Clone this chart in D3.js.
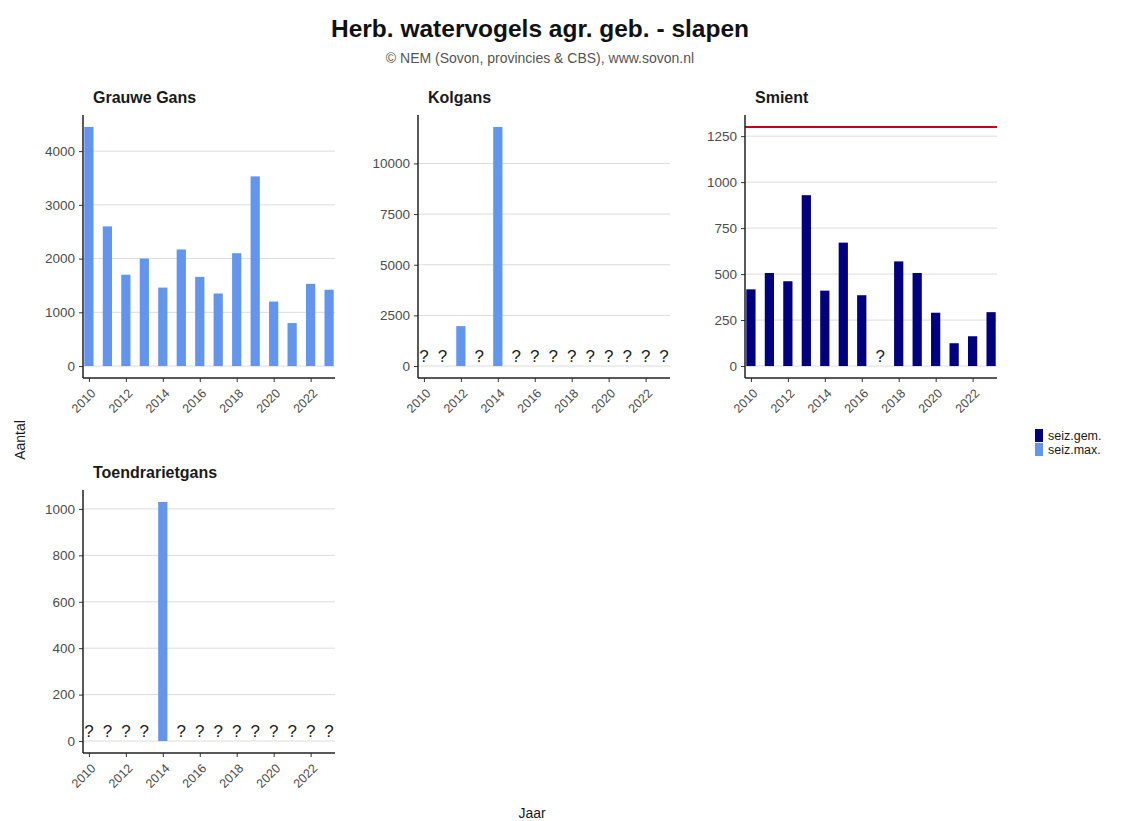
<!DOCTYPE html>
<html>
<head>
<meta charset="utf-8">
<script src="https://cdn.jsdelivr.net/npm/d3@7"></script>
<style>
  body { margin: 0; background: #fff; }
  svg { font-family: "Liberation Sans", Arial, sans-serif; }
</style>
</head>
<body>
<div id="chart"></div>
<script>
// jaren en labels
const years = [2010, 2011, 2012, 2013, 2014, 2015, 2016, 2017, 2018, 2019, 2020, 2021, 2022, 2023]
const xTickYears = [2010, 2012, 2014, 2016, 2018, 2020, 2022]

// soorten (facetten)
const species = ['Grauwe Gans', 'Kolgans', 'Smient', 'Toendrarietgans']

// waarden per soort (null = onbekend, "?")
const grauweGans = [4450, 2600, 1700, 2000, 1460, 2170, 1660, 1350, 2100, 3530, 1200, 800, 1530, 1420]
const kolgans = [null, null, 1970, null, 11800, null, null, null, null, null, null, null, null, null]
const smient = [417, 506, 461, 929, 410, 671, 385, null, 569, 506, 290, 124, 162, 293]
const toendrarietgans = [null, null, null, null, 1030, null, null, null, null, null, null, null, null, null]

// welke reeks per soort
const speciesSeries = ['seiz.max.', 'seiz.max.', 'seiz.gem.', 'seiz.max.']

// y-as ticks per soort
const yTicksGrauweGans = [0, 1000, 2000, 3000, 4000]
const yTicksKolgans = [0, 2500, 5000, 7500, 10000]
const yTicksSmient = [0, 250, 500, 750, 1000, 1250]
const yTicksToendra = [0, 200, 400, 600, 800, 1000]

// drempelwaarde Smient (rode lijn)
const smientThreshold = [1300]

// legenda
const legendLabels = ['seiz.gem.', 'seiz.max.']
const legendColors = ['#00007f', '#6495ed']

const seriesColor = { 'seiz.gem.': '#00007f', 'seiz.max.': '#6495ed' }
const values = [grauweGans, kolgans, smient, toendrarietgans]
const yTicks = [yTicksGrauweGans, yTicksKolgans, yTicksSmient, yTicksToendra]
const thresholds = [[], [], smientThreshold, []]

const width = 1128
const height = 821

const svg = d3.select('#chart').append('svg')
  .attr('width', width)
  .attr('height', height)

// titel
svg.append('text')
  .attr('x', 540).attr('y', 37)
  .attr('text-anchor', 'middle')
  .style('font-size', '24.5px').style('font-weight', 'bold').style('fill', '#111')
  .text('Herb. watervogels agr. geb. - slapen')

svg.append('text')
  .attr('x', 540).attr('y', 63)
  .attr('text-anchor', 'middle')
  .style('font-size', '14px').style('fill', '#555')
  .text('\u00a9 NEM (Sovon, provincies & CBS), www.sovon.nl')

// panelen
const panelW = 252
const panelH = 263
const panelPos = [[83, 115], [418, 115], [745, 115], [83, 490]]

species.forEach((name, i) => {
  const [px, py] = panelPos[i]
  const data = years.map((y, j) => ({ year: y, value: values[i][j] }))
  const maxVal = d3.max([...values[i].filter(v => v != null), ...thresholds[i]])

  const x = d3.scaleLinear().domain([2009.68, 2023.32]).range([0, panelW])
  const y = d3.scaleLinear().domain([-0.05 * maxVal, 1.05 * maxVal]).range([panelH, 0])
  const barW = x(2010.5) - x(2010)

  const g = svg.append('g').attr('transform', `translate(${px},${py})`)

  // strip titel
  g.append('text')
    .attr('x', 10).attr('y', -12)
    .style('font-size', '16px').style('font-weight', 'bold').style('fill', '#1a1a1a')
    .text(name)

  // rasterlijnen
  g.append('g').selectAll('line').data(yTicks[i]).enter()
    .append('line')
    .attr('x1', 0).attr('x2', panelW)
    .attr('y1', d => y(d)).attr('y2', d => y(d))
    .style('stroke', '#dcdcdc').style('stroke-width', 1)

  // staven
  g.append('g').selectAll('rect').data(data.filter(d => d.value != null)).enter()
    .append('rect')
    .attr('x', d => x(d.year) - barW / 2)
    .attr('width', barW)
    .attr('y', d => y(d.value))
    .attr('height', d => y(0) - y(d.value))
    .style('fill', seriesColor[speciesSeries[i]])

  // onbekende waarden
  g.append('g').selectAll('text').data(data.filter(d => d.value == null)).enter()
    .append('text')
    .attr('x', d => x(d.year))
    .attr('y', y(0) - 4)
    .attr('text-anchor', 'middle')
    .style('font-size', '17px').style('fill', '#222')
    .text('?')

  // drempel
  g.append('g').selectAll('line').data(thresholds[i]).enter()
    .append('line')
    .attr('x1', 0).attr('x2', panelW)
    .attr('y1', d => y(d)).attr('y2', d => y(d))
    .style('stroke', '#c4001c').style('stroke-width', 2)

  // y-as
  const yAxis = g.append('g')
    .call(d3.axisLeft(y).tickValues(yTicks[i]).tickSize(4).tickPadding(4).tickFormat(d3.format('d')))
  yAxis.select('.domain').remove()
  yAxis.selectAll('text').style('font-size', '13.5px').style('fill', '#4d4d4d').style('font-family', null)
  yAxis.selectAll('line').style('stroke', '#333')

  // x-as
  const xAxis = g.append('g').attr('transform', `translate(0,${panelH})`)
    .call(d3.axisBottom(x).tickValues(xTickYears).tickSize(4).tickFormat(d3.format('d')))
  xAxis.select('.domain').remove()
  xAxis.selectAll('line').style('stroke', '#333')
  xAxis.selectAll('text')
    .attr('text-anchor', 'end')
    .attr('dy', null)
    .attr('y', 0)
    .attr('transform', 'translate(7,16) rotate(-45)')
    .style('font-size', '12.5px').style('fill', '#4d4d4d').style('font-family', null)

  // aslijnen
  g.append('line')
    .attr('x1', 0).attr('x2', 0).attr('y1', 0).attr('y2', panelH)
    .style('stroke', '#222').style('stroke-width', 1.5)
  g.append('line')
    .attr('x1', 0).attr('x2', panelW).attr('y1', panelH).attr('y2', panelH)
    .style('stroke', '#222').style('stroke-width', 1.5)
})

// as-titels
svg.append('text')
  .attr('transform', 'translate(25,440) rotate(-90)')
  .attr('text-anchor', 'middle')
  .style('font-size', '14px').style('fill', '#1a1a1a')
  .text('Aantal')

svg.append('text')
  .attr('x', 532).attr('y', 818)
  .attr('text-anchor', 'middle')
  .style('font-size', '14px').style('fill', '#1a1a1a')
  .text('Jaar')

// legenda
const legend = svg.append('g').attr('transform', 'translate(1035,429)')
const item = legend.selectAll('g').data(legendLabels).enter()
  .append('g')
  .attr('transform', (d, i) => `translate(0,${i * 14})`)
item.append('rect')
  .attr('width', 8).attr('height', 13)
  .style('fill', (d, i) => legendColors[i])
item.append('text')
  .attr('x', 13).attr('y', 10.5)
  .style('font-size', '12.5px').style('fill', '#1a1a1a')
  .text(d => d)
</script>
</body>
</html>
